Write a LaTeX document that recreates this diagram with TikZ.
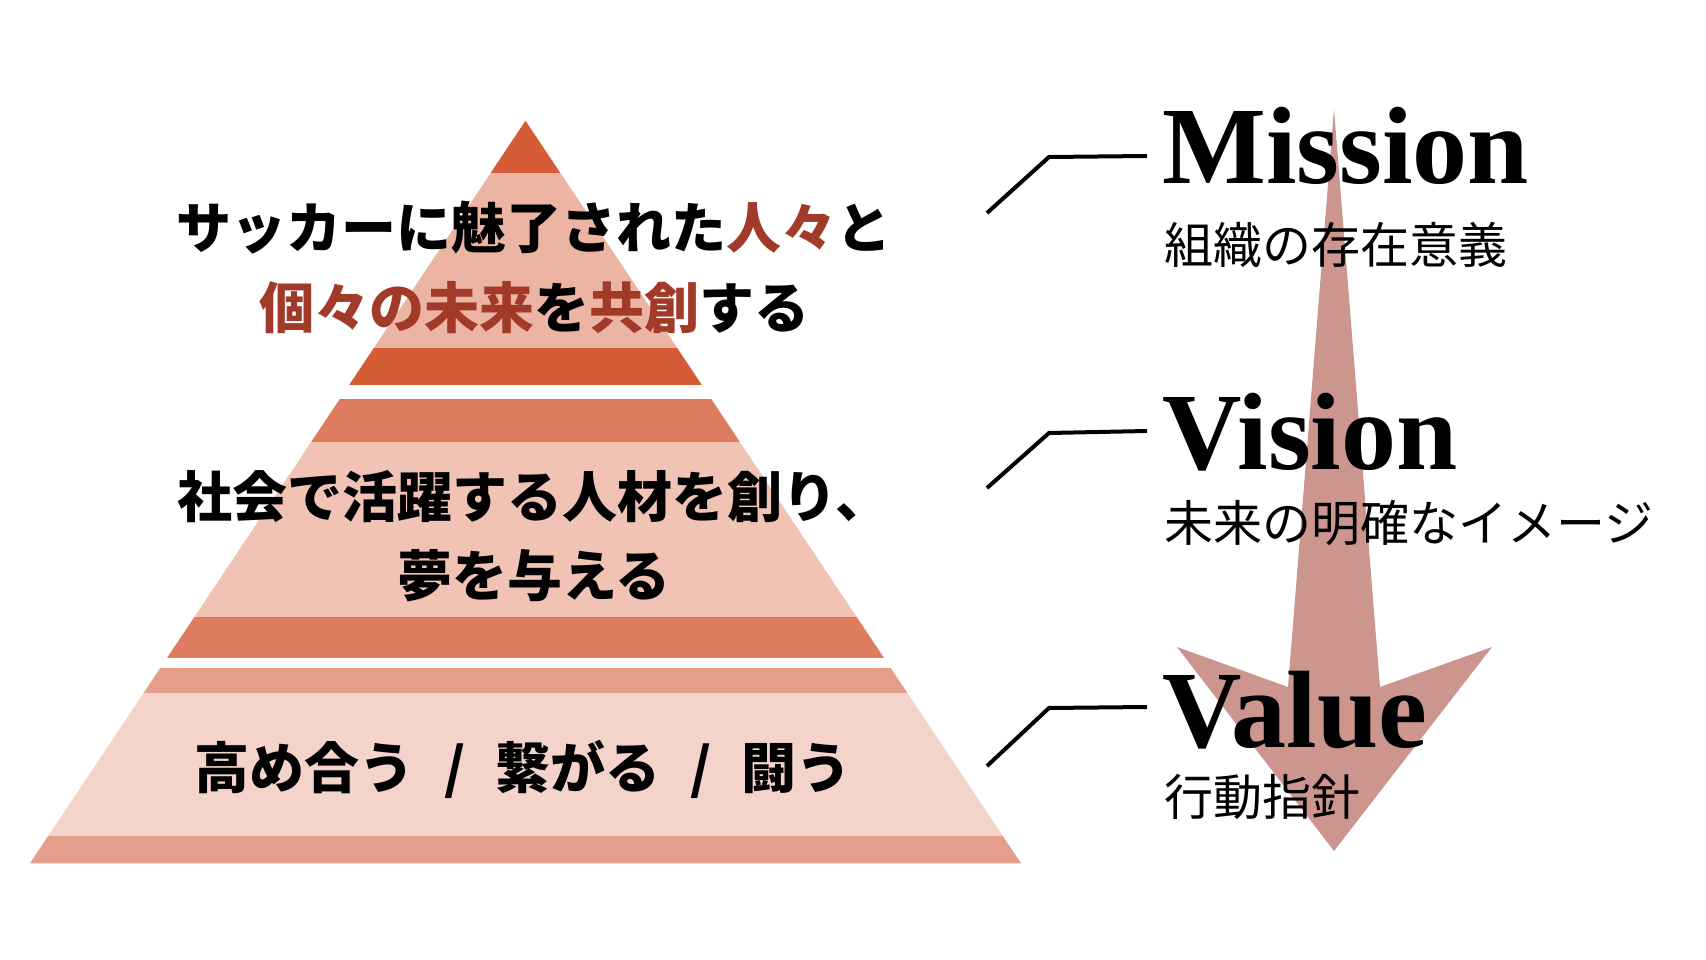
\documentclass[tikz,border=0pt]{standalone}
\usepackage{fontspec}
\setmainfont{Liberation Serif}
\newfontfamily\jp{Noto Sans CJK JP}
\definecolor{tipc}{HTML}{D65C35}
\definecolor{lightA}{HTML}{ECB4A2}
\definecolor{medB}{HTML}{DE7C5F}
\definecolor{lightB}{HTML}{F0C3B5}
\definecolor{bandC}{HTML}{E59E89}
\definecolor{lightC}{HTML}{F4D3CA}
\definecolor{jred}{HTML}{A23A2A}
\definecolor{arrowc}{HTML}{CC968E}
\tikzset{
  ptext/.style={inner sep=0pt, font=\jp\bfseries\fontsize{55}{60}\selectfont, text=black},
  bigword/.style={inner sep=0pt, font=\bfseries\fontsize{110}{110}\selectfont, text=black},
  subword/.style={inner sep=0pt, font=\jp\fontsize{49}{55}\selectfont, text=black},
  leader/.style={draw=black, line width=4pt, line join=miter},
}
\begin{document}
\begin{tikzpicture}[x=1pt,y=-1pt]
\useasboundingbox (0,0) rectangle (1706,960);
\fill[white] (0,0) rectangle (1706,960);

% big downward arrow
\fill[arrowc] (1334,109) -- (1380,687) -- (1492,647) -- (1334,851) -- (1177,647) -- (1288,687) -- cycle;

% pyramid
\coordinate (apex) at (525.5,120.7);
\coordinate (bl) at (30,863.3);
\coordinate (br) at (1021,863.3);
\begin{scope}
  \clip (apex) -- (br) -- (bl) -- cycle;
  \fill[tipc]   (0,110)   rectangle (1100,172.7);
  \fill[lightA] (0,172.7) rectangle (1100,348);
  \fill[tipc]   (0,348)   rectangle (1100,385);
  \fill[medB]   (0,399)   rectangle (1100,442.3);
  \fill[lightB] (0,442.3) rectangle (1100,616.7);
  \fill[medB]   (0,616.7) rectangle (1100,657.5);
  \fill[bandC]  (0,668.3) rectangle (1100,693.3);
  \fill[lightC] (0,693.3) rectangle (1100,836);
  \fill[bandC]  (0,836)   rectangle (1100,870);
\end{scope}

% pyramid texts
\node[ptext, anchor=base] (m1) at (534,248) {サッカーに魅了された\textcolor{jred}{人々}と};
\node[ptext, anchor=base] (m2) at (534,328) {\textcolor{jred}{個々の未来}を\textcolor{jred}{共創}する};
\node[ptext, anchor=base] (v1) at (534,517) {社会で活躍する人材を創り、};
\node[ptext, anchor=base] (v2) at (534,596) {夢を与える};
\node[ptext, anchor=base] (a1) at (523,788) {高め合う\hspace{30pt}/\hspace{30pt}繋がる\hspace{30pt}/\hspace{30pt}闘う};

% right labels
\node[bigword, anchor=base west] (mis) at (1162,184) {Mission};
\node[subword, anchor=base west] (mis2) at (1164,263) {組織の存在意義};
\node[bigword, anchor=base west] (vis) at (1162,469) {Vision};
\node[subword, anchor=base west] (vis2) at (1164,541) {未来の明確なイメージ};
\node[bigword, anchor=base west] (val) at (1162,747) {Value};
\node[subword, anchor=base west] (val2) at (1164,815) {行動指針};

% leaders
\coordinate (l1a) at (987,213); \coordinate (l1b) at (1049,157); \coordinate (l1c) at (1147,156);
\coordinate (l2a) at (987,488); \coordinate (l2b) at (1049,433); \coordinate (l2c) at (1147,431);
\coordinate (l3a) at (987,766); \coordinate (l3b) at (1049,708); \coordinate (l3c) at (1147,707);
\draw[leader] (l1a) -- (l1b) -- (l1c);
\draw[leader] (l2a) -- (l2b) -- (l2c);
\draw[leader] (l3a) -- (l3b) -- (l3c);
\end{tikzpicture}
\end{document}
